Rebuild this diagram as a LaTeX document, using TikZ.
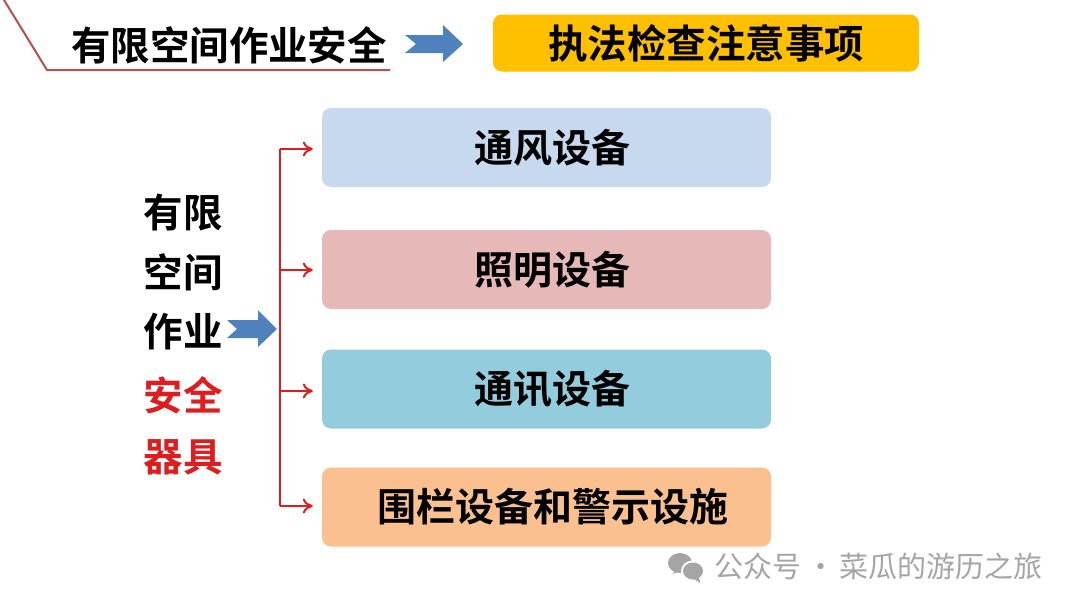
\documentclass[tikz,border=0pt]{standalone}
\usepackage{fontspec}
\newfontfamily\cjk{Noto Sans CJK SC}
\newfontfamily\cjkb{Noto Sans CJK SC Bold}
\usetikzlibrary{arrows.meta}
\definecolor{linered}{RGB}{184,78,78}
\definecolor{arrowblue}{RGB}{79,129,189}
\definecolor{ttlyellow}{RGB}{255,192,0}
\definecolor{boxblue}{RGB}{198,217,238}
\definecolor{boxpink}{RGB}{230,185,184}
\definecolor{boxteal}{RGB}{147,205,221}
\definecolor{boxorange}{RGB}{250,192,143}
\definecolor{brred}{RGB}{222,30,30}
\definecolor{wmgray}{RGB}{165,165,165}
\tikzset{
  itembox/.style={rounded corners=9pt, minimum width=449pt, minimum height=79pt, inner sep=0pt, font=\cjkb\fontsize{39}{40}\selectfont, execute at begin node=\hspace*{12pt}},
  sidetext/.style={font=\cjkb\fontsize{39.5}{40}\selectfont, inner sep=0pt},
  brarrow/.style={draw=brred, line width=2pt, -{To[length=10pt,width=15pt,line width=2pt]}, shorten >=9pt},
}
\begin{document}
\begin{tikzpicture}[x=1pt,y=-1pt]
\useasboundingbox[fill=white] (0,0) rectangle (1080,608);
% top-left line
\coordinate (l0) at (4,0);
\coordinate (l1) at (47,70);
\coordinate (l2) at (390,70);
\draw[linered, line width=2pt] (l0) -- (l1) -- (l2);
\node[sidetext, font=\cjkb\fontsize{39.5}{40}\selectfont] (title) at (229,45) {有限空间作业安全};
% top blue arrow
\fill[arrowblue] (405,35) -- (443,35) -- (443,25) -- (463,44) -- (443,62) -- (443,53) -- (405,53) -- (416,44) -- cycle;
\node[fill=ttlyellow, rounded corners=9pt, minimum width=426pt, minimum height=57pt, inner sep=0pt, font=\cjkb\fontsize{39.5}{40}\selectfont] (sub) at (706,43) {执法检查注意事项};
% boxes
\node[itembox, fill=boxblue] (b1) at (546.5,147.5) {通风设备};
\node[itembox, fill=boxpink] (b2) at (546.5,269.5) {照明设备};
\node[itembox, fill=boxteal] (b3) at (546.5,389) {通讯设备};
\node[itembox, fill=boxorange] (b4) at (546.5,507) {围栏设备和警示设施};
% side text
\node[sidetext] (s1) at (183,213) {有限};
\node[sidetext] (s2) at (183,272) {空间};
\node[sidetext] (s3) at (183,332) {作业};
\node[sidetext, text=brred] (s4) at (183,395) {安全};
\node[sidetext, text=brred] (s5) at (183,457) {器具};
% left blue arrow
\fill[arrowblue] (227,320) -- (258,320) -- (258,310) -- (277,329) -- (258,347) -- (258,338) -- (227,338) -- (237,329) -- cycle;
% bracket
\coordinate (c1) at (280,149);
\coordinate (c2) at (280,270);
\coordinate (c3) at (280,391);
\coordinate (c4) at (280,506);
\draw[brred, line width=2pt] (c1) -- (c4);
\draw[brarrow] (c1) -- (c1 -| b1.west);
\draw[brarrow] (c2) -- (c2 -| b2.west);
\draw[brarrow] (c3) -- (c3 -| b3.west);
\draw[brarrow] (c4) -- (c4 -| b4.west);
% watermark
\fill[wmgray] (680,563) ellipse (12pt and 10pt);
\fill[wmgray] (673,574) -- (676,568) -- (680,571) -- cycle;
\fill[white] (693,571) ellipse (12pt and 10.5pt);
\fill[wmgray] (693,571) ellipse (10pt and 8.5pt);
\fill[wmgray] (700,583) -- (699,577) -- (694,579) -- cycle;
\node[anchor=west, inner sep=0pt, text=wmgray, font=\cjk\fontsize{29}{30}\selectfont] (wm) at (714,566) {公众号\,·\,菜瓜的游历之旅};
\end{tikzpicture}
\end{document}
